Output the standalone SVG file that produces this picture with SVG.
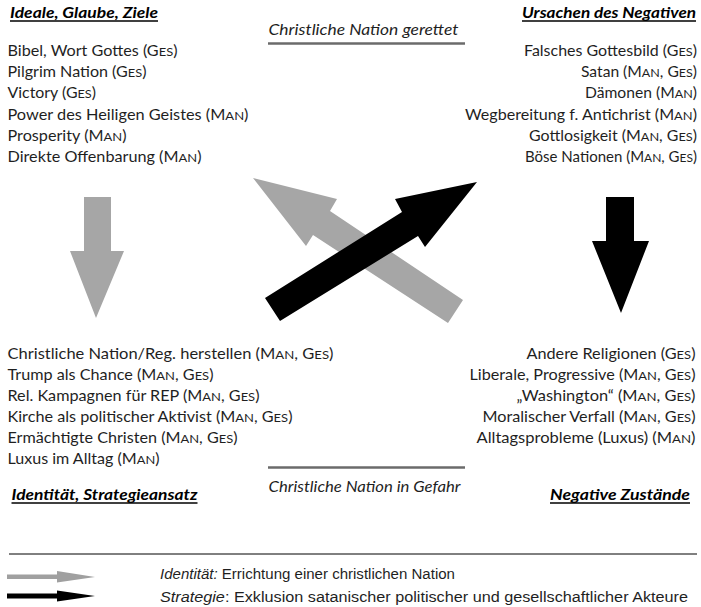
<svg xmlns="http://www.w3.org/2000/svg" width="701" height="607" viewBox="0 0 701 607">
<style>
text{font-family:Lato,"Open Sans","Liberation Sans",sans-serif;fill:#1f1f1f;font-size:15px}
.it{font-style:italic}
.hd{font-weight:bold;font-style:italic;fill:#000}
.end{text-anchor:end}
.sc{font-size:12px}
.lg{font-family:"Liberation Sans",sans-serif;font-size:14px}
.ul{stroke:#000;stroke-width:1.6}
.gl{stroke:#6b6b6b;stroke-width:2.6}
.gray{fill:#a6a6a6}
.blk{fill:#000}
</style>
<rect width="701" height="607" fill="#fff"/>

<g id="ideale">
<text class="hd" x="10" y="18" textLength="148" lengthAdjust="spacingAndGlyphs">Ideale, Glaube, Ziele</text>
<line class="ul" x1="10" y1="21" x2="158" y2="21"/>
<text x="7.5" y="56" textLength="170" lengthAdjust="spacingAndGlyphs">Bibel, Wort Gottes (G<tspan class="sc">ES</tspan>)</text>
<text x="7.5" y="77" textLength="139" lengthAdjust="spacingAndGlyphs">Pilgrim Nation (G<tspan class="sc">ES</tspan>)</text>
<text x="7.5" y="98" textLength="88.5" lengthAdjust="spacingAndGlyphs">Victory (G<tspan class="sc">ES</tspan>)</text>
<text x="7.5" y="119.5" textLength="241" lengthAdjust="spacingAndGlyphs">Power des Heiligen Geistes (M<tspan class="sc">AN</tspan>)</text>
<text x="7.5" y="140.5" textLength="119" lengthAdjust="spacingAndGlyphs">Prosperity (M<tspan class="sc">AN</tspan>)</text>
<text x="7.5" y="162" textLength="194" lengthAdjust="spacingAndGlyphs">Direkte Offenbarung (M<tspan class="sc">AN</tspan>)</text>
</g>

<g id="ursachen">
<text class="hd end" x="696" y="17.5" textLength="174" lengthAdjust="spacingAndGlyphs">Ursachen des Negativen</text>
<line class="ul" x1="522" y1="21" x2="696" y2="21"/>
<text class="end" x="697" y="56" textLength="173" lengthAdjust="spacingAndGlyphs">Falsches Gottesbild (G<tspan class="sc">ES</tspan>)</text>
<text class="end" x="697" y="77" textLength="116" lengthAdjust="spacingAndGlyphs">Satan (M<tspan class="sc">AN</tspan>, G<tspan class="sc">ES</tspan>)</text>
<text class="end" x="697" y="98" textLength="112" lengthAdjust="spacingAndGlyphs">Dämonen (M<tspan class="sc">AN</tspan>)</text>
<text class="end" x="697" y="119.5" textLength="232" lengthAdjust="spacingAndGlyphs">Wegbereitung f. Antichrist (M<tspan class="sc">AN</tspan>)</text>
<text class="end" x="697" y="140.5" textLength="168" lengthAdjust="spacingAndGlyphs">Gottlosigkeit (M<tspan class="sc">AN</tspan>, G<tspan class="sc">ES</tspan>)</text>
<text class="end" x="697" y="162" textLength="172" lengthAdjust="spacingAndGlyphs">Böse Nationen (M<tspan class="sc">AN</tspan>, G<tspan class="sc">ES</tspan>)</text>
</g>

<g id="gerettet">
<text class="it" x="268.5" y="35" textLength="190" lengthAdjust="spacingAndGlyphs">Christliche Nation gerettet</text>
<line class="gl" x1="268" y1="43.5" x2="465" y2="43.5"/>
</g>

<g id="identitaet">
<text x="7.5" y="358.5" textLength="326" lengthAdjust="spacingAndGlyphs">Christliche Nation/Reg.  herstellen (M<tspan class="sc">AN</tspan>, G<tspan class="sc">ES</tspan>)</text>
<text x="7.5" y="379.5" textLength="206" lengthAdjust="spacingAndGlyphs">Trump als Chance (M<tspan class="sc">AN</tspan>, G<tspan class="sc">ES</tspan>)</text>
<text x="7.5" y="400.5" textLength="252" lengthAdjust="spacingAndGlyphs">Rel. Kampagnen für REP (M<tspan class="sc">AN</tspan>, G<tspan class="sc">ES</tspan>)</text>
<text x="7.5" y="421.5" textLength="285" lengthAdjust="spacingAndGlyphs">Kirche als politischer Aktivist (M<tspan class="sc">AN</tspan>, G<tspan class="sc">ES</tspan>)</text>
<text x="7.5" y="443" textLength="230" lengthAdjust="spacingAndGlyphs">Ermächtigte Christen (M<tspan class="sc">AN</tspan>, G<tspan class="sc">ES</tspan>)</text>
<text x="7.5" y="464" textLength="152" lengthAdjust="spacingAndGlyphs">Luxus im Alltag (M<tspan class="sc">AN</tspan>)</text>
<text class="hd" x="11.5" y="499.5" textLength="186" lengthAdjust="spacingAndGlyphs">Identität, Strategieansatz</text>
<line class="ul" x1="11.5" y1="503" x2="197.5" y2="503"/>
</g>

<g id="zustaende">
<text class="end" x="695.5" y="358.5" textLength="169" lengthAdjust="spacingAndGlyphs">Andere Religionen (G<tspan class="sc">ES</tspan>)</text>
<text class="end" x="695.5" y="379.5" textLength="226" lengthAdjust="spacingAndGlyphs">Liberale, Progressive (M<tspan class="sc">AN</tspan>, G<tspan class="sc">ES</tspan>)</text>
<text class="end" x="695.5" y="400.5" textLength="179" lengthAdjust="spacingAndGlyphs">„Washington“ (M<tspan class="sc">AN</tspan>, G<tspan class="sc">ES</tspan>)</text>
<text class="end" x="695.5" y="421.5" textLength="213" lengthAdjust="spacingAndGlyphs">Moralischer Verfall (M<tspan class="sc">AN</tspan>, G<tspan class="sc">ES</tspan>)</text>
<text class="end" x="695.5" y="443" textLength="219" lengthAdjust="spacingAndGlyphs">Alltagsprobleme (Luxus) (M<tspan class="sc">AN</tspan>)</text>
<text class="hd end" x="690" y="499.5" textLength="140" lengthAdjust="spacingAndGlyphs">Negative Zustände</text>
<line class="ul" x1="550" y1="503" x2="690" y2="503"/>
</g>

<g id="gefahr">
<line class="gl" x1="268" y1="467.5" x2="465" y2="467.5"/>
<text class="it" x="268.5" y="491.5" textLength="192" lengthAdjust="spacingAndGlyphs">Christliche Nation in Gefahr</text>
</g>

<g id="connectors">
<polygon class="gray" points="84,197 111,197 111,251 124,251 96,318 70,251 84,251"/>
<polygon class="blk" points="606,197 634,197 634,241 649,241 621,313 592,241 606,241"/>
<polygon class="gray" points="253,178 337,199 330,211 463,300 448,323 313,235 306,246"/>
<polygon class="blk" points="265,298 402,212 395,199 477,182 425,247 418,236 280,321"/>
</g>

<g id="legend">
<line x1="9" y1="554" x2="697" y2="554" stroke="#000" stroke-width="1"/>
<polygon points="7,574.5 57,574.5 57,571 95,577 57,582.5 57,579 7,579" fill="#a0a0a0"/>
<polygon points="7,593.5 57,593.5 57,590.5 95,596 57,601.5 57,598.5 7,598.5" fill="#000"/>
<text class="lg" x="160" y="578.5" textLength="295" lengthAdjust="spacingAndGlyphs"><tspan font-style="italic">Identität:</tspan> Errichtung einer christlichen Nation</text>
<text class="lg" x="160" y="601.5" textLength="528" lengthAdjust="spacingAndGlyphs"><tspan font-style="italic">Strategie</tspan>: Exklusion satanischer politischer und gesellschaftlicher Akteure</text>
</g>
</svg>
